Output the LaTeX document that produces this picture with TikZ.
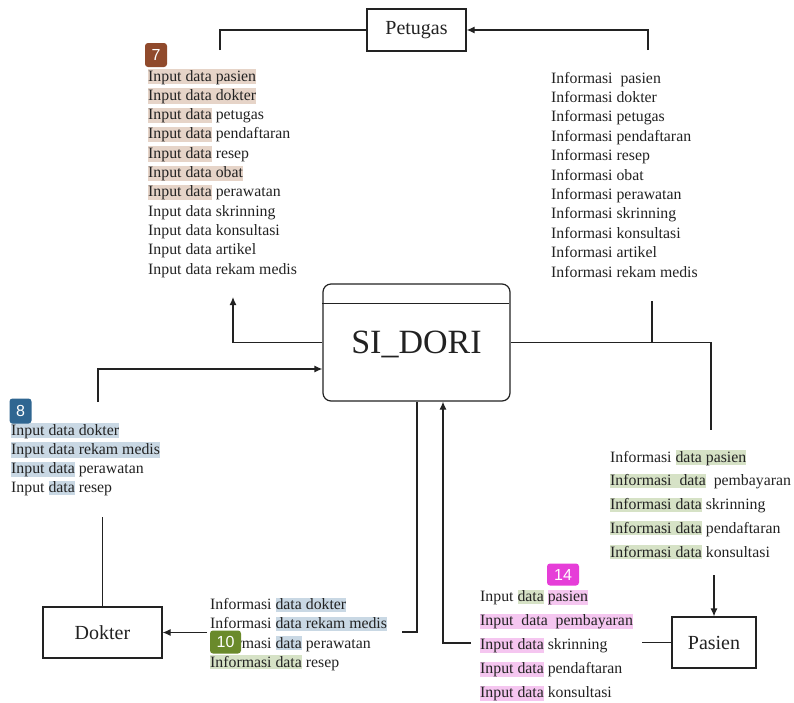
\documentclass[tikz,border=0pt]{standalone}
\usepackage{fontspec}
\setmainfont{Liberation Serif}
\newfontfamily\tagfont{Liberation Sans}
\usetikzlibrary{arrows.meta}
\definecolor{hlt}{HTML}{E6D4C8}
\definecolor{hlb}{HTML}{C9D8E4}
\definecolor{hlg}{HTML}{D6E2C6}
\definecolor{hlp}{HTML}{F5C6F0}
\definecolor{tgt}{HTML}{904A2C}
\definecolor{tgb}{HTML}{2F6691}
\definecolor{tgg}{HTML}{6A8A2B}
\definecolor{tgp}{HTML}{E63ED8}
\definecolor{ln}{HTML}{222222}
\newcommand{\hlx}[2]{{\setlength{\fboxsep}{0pt}\colorbox{#1}{\rule[-2pt]{0pt}{14pt}#2}}}
\begin{document}
\begin{tikzpicture}[x=1pt,y=-1pt,
  txt/.style={anchor=base west, inner sep=0pt, font=\fontsize{15.8}{19}\selectfont, text=ln},
  entity/.style={draw=ln, line width=1.2pt, inner sep=0pt, font=\fontsize{20}{24}\selectfont, text=ln},
  flow/.style={draw=ln, line width=1.2pt},
  arr/.style={-{Latex[length=8pt,width=7pt]}},
  tagbox/.style={rounded corners=3pt, text=white, inner sep=0pt, font=\tagfont\fontsize{16}{16}\selectfont}]
\useasboundingbox (0,0) rectangle (794,702);

% entities
\node[entity, minimum width=99pt, minimum height=42pt] (petugas) at (416.5,30) {Petugas};
\node[entity, minimum width=119pt, minimum height=51pt] (dokter) at (102.5,632.5) {Dokter};
\node[entity, minimum width=84pt, minimum height=51pt] (pasien) at (714,642.5) {Pasien};
\node[draw=ln, line width=1.2pt, rounded corners=8pt, minimum width=187pt, minimum height=117pt,
      inner sep=0pt, text height=22.5pt, text depth=0pt, font=\fontsize{34}{40}\selectfont, text=ln]
      (sidori) at (416.5,342.5) {SI\_DORI};
\draw[flow] (sidori.north west) ++(0,20) -- ++(187,0);

% text lists
\foreach \t [count=\i] in {{\hlx{hlt}{Input data pasien}},{\hlx{hlt}{Input data dokter}},
  {\hlx{hlt}{Input data} petugas},{\hlx{hlt}{Input data} pendaftaran},{\hlx{hlt}{Input data} resep},
  {\hlx{hlt}{Input data obat}},{\hlx{hlt}{Input data} perawatan},{Input data skrinning},
  {Input data konsultasi},{Input data artikel},{Input data rekam medis}}
  \node[txt] (pin\i) at (148,{81+19.3*(\i-1)}) {\t};

\foreach \t [count=\i] in {{Informasi\ \ pasien},{Informasi dokter},{Informasi petugas},
  {Informasi pendaftaran},{Informasi resep},{Informasi obat},{Informasi perawatan},
  {Informasi skrinning},{Informasi konsultasi},{Informasi artikel},{Informasi rekam medis}}
  \node[txt] (pinf\i) at (551,{83+19.4*(\i-1)}) {\t};

\foreach \t [count=\i] in {{\hlx{hlb}{Input data dokter}},{\hlx{hlb}{Input data rekam medis}},
  {\hlx{hlb}{Input data} perawatan},{Input \hlx{hlb}{data} resep}}
  \node[txt] (din\i) at (11,{435+19.3*(\i-1)}) {\t};

\foreach \t [count=\i] in {{Informasi \hlx{hlb}{data dokter}},{Informasi \hlx{hlb}{data rekam medis}},
  {Informasi \hlx{hlb}{data} perawatan},{\hlx{hlg}{Informasi data} resep}}
  \node[txt] (dinf\i) at (210,{609.5+19.3*(\i-1)}) {\t};

\foreach \t [count=\i] in {{Informasi \hlx{hlg}{data pasien}},{\hlx{hlg}{Informasi\ \ data}\ \ pembayaran},
  {\hlx{hlg}{Informasi data} skrinning},{\hlx{hlg}{Informasi data} pendaftaran},
  {\hlx{hlg}{Informasi data} konsultasi}}
  \node[txt] (painf\i) at (610,{462+23.8*(\i-1)}) {\t};

\foreach \t [count=\i] in {{Input \hlx{hlg}{data} \hlx{hlp}{pasien}},{\hlx{hlp}{Input\ \ data\ \ pembayaran}},
  {\hlx{hlp}{Input data} skrinning},{\hlx{hlp}{Input data} pendaftaran},
  {\hlx{hlp}{Input data} konsultasi}}
  \node[txt] (pain\i) at (480,{601.5+24*(\i-1)}) {\t};

% connectors
\coordinate (a1) at (220,50);
\draw[flow] (a1) |- (petugas.west);
\coordinate (a2) at (648,50);
\draw[flow,arr] (a2) |- (petugas.east);
\coordinate (a3) at (233,297);
\draw[flow,arr] (sidori.west) -| (a3);
\coordinate (a4) at (98,402);
\draw[flow,arr] (a4) |- ([yshift=-26.5pt]sidori.west);
\coordinate (a5) at (711,430);
\draw[flow] (sidori.east) -| (a5);
\coordinate (a6) at (652,301);
\draw[flow] (a6) -- (a6 |- sidori.east);
\coordinate (a7) at (714,575);
\draw[flow,arr] (a7) -- (pasien.north);
\coordinate (a8) at (642,642.5);
\draw[flow] (a8) -- (pasien.west);
\coordinate (a9) at (471,643);
\draw[flow,arr] (a9) -| ([xshift=26.5pt]sidori.south);
\coordinate (a10) at (402,632);
\draw[flow] ([xshift=0.5pt]sidori.south) |- (a10);
\coordinate (a11) at (207,632.5);
\draw[flow,arr] (a11) -- (dokter.east);
\coordinate (a12) at (102.5,517);
\draw[flow] (a12) -- (dokter.north);

% tags
\node[tagbox, fill=tgt, minimum width=22pt, minimum height=24pt] (t7) at (156,55) {7};
\node[tagbox, fill=tgb, minimum width=22pt, minimum height=25pt] (t8) at (20.5,411) {8};
\node[tagbox, fill=tgg, minimum width=31pt, minimum height=23pt] (t10) at (225.5,642) {10};
\node[tagbox, fill=tgp, minimum width=32pt, minimum height=22pt] (t14) at (563,574.5) {14};
\end{tikzpicture}
\end{document}
